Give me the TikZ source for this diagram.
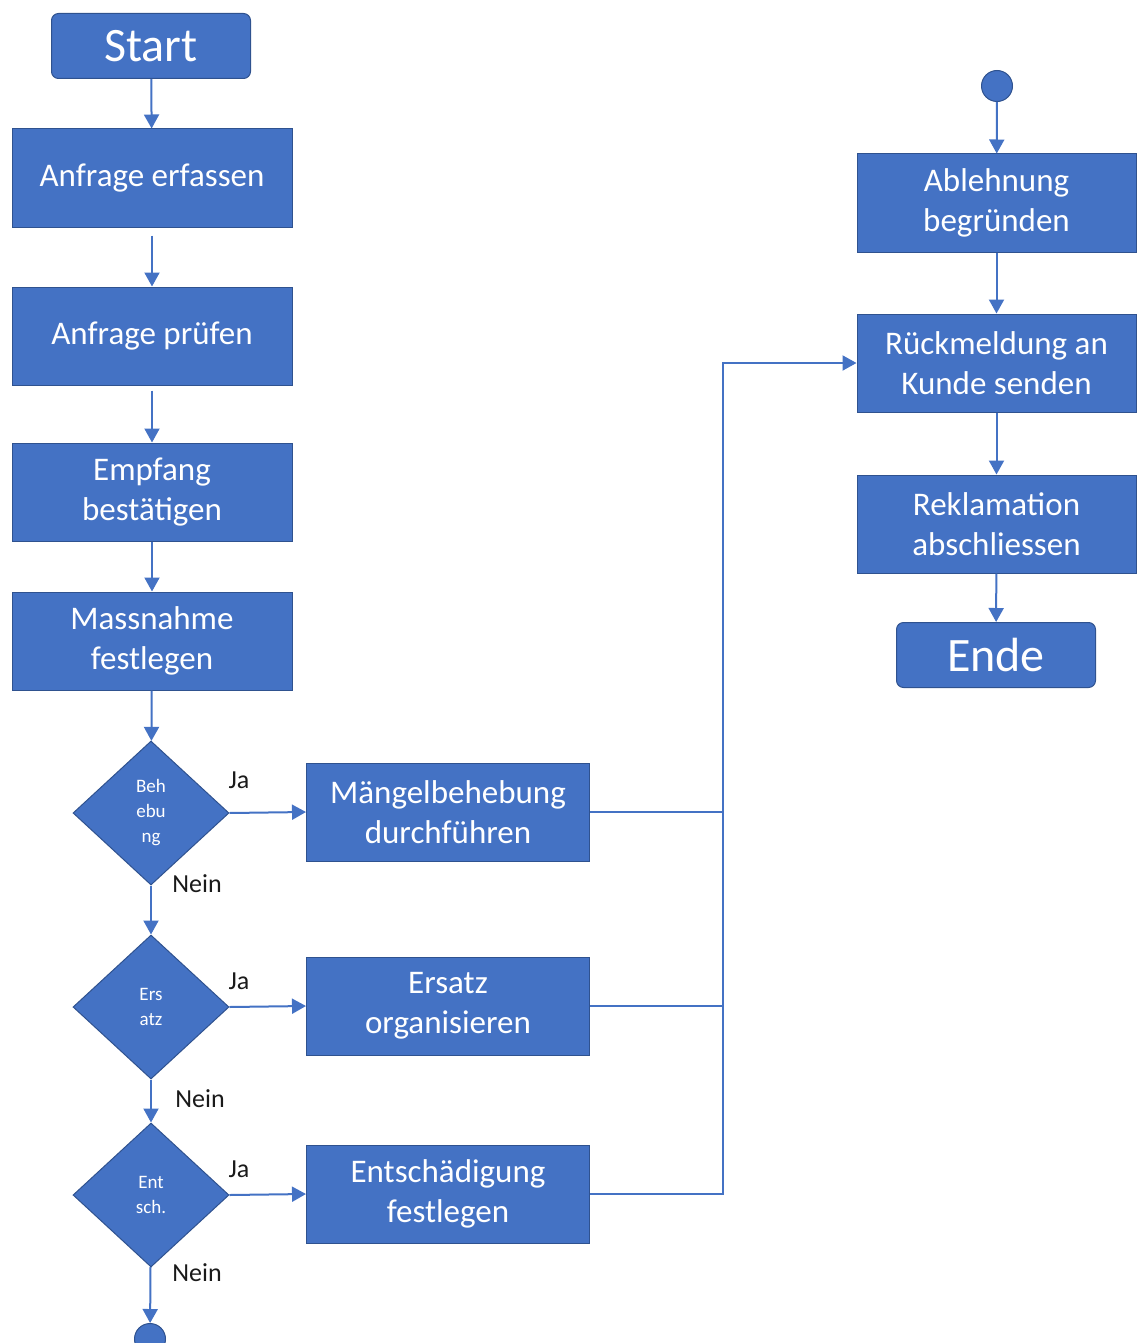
\documentclass[tikz,border=0pt]{standalone}
\usepackage{fontspec}
\setmainfont{Carlito}
\usepackage{tikz}
\usetikzlibrary{arrows.meta,shapes.geometric}
\definecolor{Office}{HTML}{4472C4}
\definecolor{OfficeDark}{HTML}{2F528F}
\definecolor{Ink}{HTML}{1A1A1A}
\tikzset{
  flow/.style={draw=OfficeDark,line width=1pt,fill=Office,text=white,align=center,inner sep=2pt,font=\fontsize{33}{40}\selectfont},
  flowbox/.style={flow,minimum width=280pt,minimum height=98pt},
  flowend/.style={flow,rounded corners=7pt,minimum width=199pt,minimum height=65pt,font=\fontsize{48}{52}\selectfont},
  flowdec/.style={flow,diamond,minimum width=156pt,minimum height=144pt,inner sep=0pt,font=\fontsize{19}{25}\selectfont},
  flowdot/.style={circle,fill=Office,draw=OfficeDark,line width=1pt,minimum size=31pt,inner sep=0pt},
  lab/.style={text=Ink,font=\fontsize{26}{30}\selectfont},
  arrow/.style={-{Triangle[length=14pt,width=15pt]},line width=2pt,draw=Office},
  plain/.style={line width=2pt,draw=Office}
}
\begin{document}
\begin{tikzpicture}[x=1pt,y=-1pt]
  \useasboundingbox (0,0) rectangle (1136,1343);

  % left column
  \node[flowend] (start) at (151,46) {Start};
  \node[flowbox] (erfassen) at (152,178) {Anfrage erfassen};
  \node[flowbox] (pruefen) at (152,336) {Anfrage prüfen};
  \node[flowbox] (empfang) at (152,492) {Empfang\\bestätigen};
  \node[flowbox] (massnahme) at (152,641) {Massnahme\\festlegen};
  \draw[arrow] (start)--(erfassen); \draw[arrow] ([yshift=-8pt]erfassen.south)--(pruefen);
  \draw[arrow] ([yshift=-5pt]pruefen.south)--(empfang); \draw[arrow] (empfang)--(massnahme);

  \node[flowdec] (behebung) at (151,813) {Beh\\ebu\\ng};
  \node[flowdec] (ersatzq) at (151,1007) {Ers\\atz};
  \node[flowdec] (entschq) at (151,1195) {Ent\\sch.};
  \node[flowdot] (endl) at (150,1339) {};
  \draw[arrow] (massnahme)--(behebung); \draw[arrow] (behebung)--(ersatzq);
  \draw[arrow] (ersatzq)--(entschq); \draw[arrow] (entschq)--(endl);

  \node[flowbox,minimum width=283pt] (maengel) at (448,812) {Mängelbehebung\\durchführen};
  \node[flowbox,minimum width=283pt] (ersatz) at (448,1006) {Ersatz\\organisieren};
  \node[flowbox,minimum width=283pt] (entsch) at (448,1194) {Entschädigung\\festlegen};
  \draw[arrow] (behebung.east)--(maengel.west);
  \draw[arrow] (ersatzq.east)--(ersatz.west);
  \draw[arrow] (entschq.east)--(entsch.west);

  \node[lab] (ja1) at (239,780) {Ja};
  \node[lab] (nein1) at (197,884) {Nein};
  \node[lab] (ja2) at (239,981) {Ja};
  \node[lab] (nein2) at (200,1099) {Nein};
  \node[lab] (ja3) at (239,1169) {Ja};
  \node[lab] (nein3) at (197,1273) {Nein};

  % right column
  \node[flowdot] (startr) at (997,86) {};
  \node[flowbox,minimum width=279pt] (ablehnung) at (996.5,203) {Ablehnung\\begründen};
  \node[flowbox,minimum width=279pt] (rueck) at (996.5,363) {Rückmeldung an\\Kunde senden};
  \node[flowbox,minimum width=279pt] (reklamation) at (996.5,524) {Reklamation\\abschliessen};
  \node[flowend] (ende) at (996,655) {Ende};
  \draw[arrow] (startr)--(ablehnung); \draw[arrow] (ablehnung)--(rueck);
  \draw[arrow] (rueck)--(reklamation); \draw[arrow] (reklamation)--(ende);

  \coordinate (bend) at (723,363);
  \draw[plain] (maengel.east)--(maengel.east -| bend);
  \draw[plain] (ersatz.east)--(ersatz.east -| bend);
  \draw[arrow] (entsch.east) -| (bend) -- (rueck.west);
\end{tikzpicture}
\end{document}
